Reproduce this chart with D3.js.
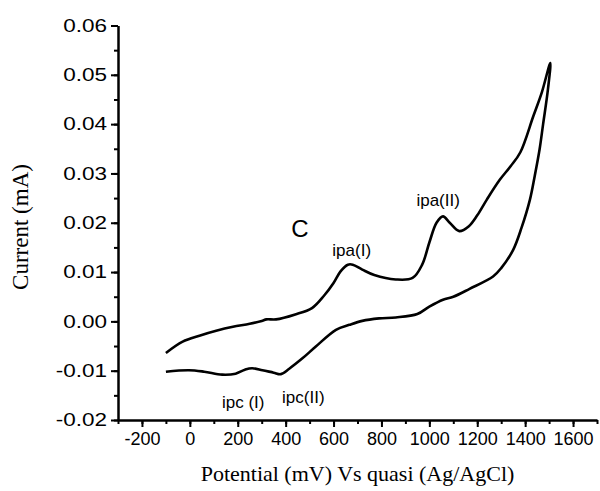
<!DOCTYPE html>
<html>
<head>
<meta charset="utf-8">
<script src="https://cdn.jsdelivr.net/npm/d3@7"></script>
<style>
    body { margin: 0; background: #fff; }
    svg { display: block; }
</style>
</head>
<body>
<div id="cv"></div>
<script>
// forward (anodic) sweep, -100 -> 1500 mV
let forwardPotential = [-100, -30, 40, 110, 180, 250, 300, 320, 360, 440, 510, 560, 600, 630, 660, 680, 720, 770, 860, 930, 970, 1000, 1030, 1057, 1085, 1125, 1165, 1200, 1240, 1294, 1340, 1380, 1434, 1470, 1505];
let forwardCurrent = [-0.0064, -0.0041, -0.0029, -0.0019, -0.0011, -0.0005, 0.0001, 0.0004, 0.0004, 0.0014, 0.0027, 0.0052, 0.0078, 0.0102, 0.0115, 0.0115, 0.0105, 0.0094, 0.0085, 0.0088, 0.0115, 0.0160, 0.0200, 0.0213, 0.0200, 0.0183, 0.0193, 0.0215, 0.0247, 0.0287, 0.0315, 0.0343, 0.0416, 0.0465, 0.0524];

// reverse (cathodic) sweep, 1500 -> -100 mV
let reversePotential = [1495, 1475, 1460, 1440, 1420, 1385, 1350, 1300, 1266, 1168, 1100, 1057, 1000, 950, 860, 790, 720, 666, 610, 526, 470, 415, 380, 350, 303, 260, 230, 191, 135, 60, -4, -100];
let reverseCurrent = [0.0470, 0.0400, 0.0348, 0.0295, 0.0247, 0.0190, 0.0145, 0.0108, 0.0091, 0.0066, 0.0050, 0.0044, 0.0030, 0.0015, 0.0008, 0.0006, 0.0001, -0.0007, -0.0017, -0.0051, -0.0075, -0.0096, -0.0107, -0.0104, -0.0099, -0.0095, -0.0098, -0.0106, -0.0108, -0.0102, -0.0099, -0.0102];

let xTicks = [-200, 0, 200, 400, 600, 800, 1000, 1200, 1400, 1600];
let yTicks = [-0.02, -0.01, 0.00, 0.01, 0.02, 0.03, 0.04, 0.05, 0.06];

let labelText = ["C", "ipa(I)", "ipa(II)", "ipc (I)", "ipc(II)"];
let labelPotential = [423, 595, 946, 134, 385];
let labelCurrent = [0.0172, 0.0133, 0.0233, -0.0175, -0.0165];

let width = 600, height = 491;

let svg = d3.select("#cv")
    .append("svg")
    .attr("width", width)
    .attr("height", height);

let x = d3.scaleLinear()
    .domain([-300, 1700])
    .range([118, 597]);

let y = d3.scaleLinear()
    .domain([-0.02, 0.06])
    .range([420, 25.5]);

// minor ticks first, then major ones on top
svg.append("g")
    .attr("transform", `translate(0, ${y(-0.02)})`)
    .call(d3.axisBottom(x).tickValues(d3.range(-300, 1701, 100)).tickSize(4).tickFormat("").tickSizeOuter(0))
    .call(g => g.select(".domain").remove())
    .selectAll("line").attr("stroke-width", 2);

svg.append("g")
    .attr("transform", `translate(${x(-300)}, 0)`)
    .call(d3.axisLeft(y).tickValues(d3.range(-0.02, 0.0601, 0.005)).tickSize(4).tickFormat("").tickSizeOuter(0))
    .call(g => g.select(".domain").remove())
    .selectAll("line").attr("stroke-width", 2);

let xAxis = svg.append("g")
    .attr("transform", `translate(0, ${y(-0.02)})`)
    .call(d3.axisBottom(x).tickValues(xTicks).tickSize(7).tickSizeOuter(0).tickPadding(5)
        .tickFormat(d => String(d)));

xAxis.select(".domain").attr("stroke-width", 2.5);
xAxis.selectAll("line").attr("stroke-width", 2);
xAxis.selectAll("text")
    .style("font-family", "'Liberation Sans', Arial, sans-serif")
    .style("font-size", "18px")
    .attr("fill", "#000");

let yAxis = svg.append("g")
    .attr("transform", `translate(${x(-300)}, 0)`)
    .call(d3.axisLeft(y).tickValues(yTicks).tickSize(7).tickSizeOuter(0)
        .tickFormat(d => (Math.abs(d) < 1e-9 ? 0 : d).toFixed(2)));

yAxis.select(".domain").attr("stroke-width", 2.5);
yAxis.selectAll("line").attr("stroke-width", 2);
yAxis.selectAll("text")
    .attr("x", -8.8)
    .attr("transform", "scale(1.25,1)")
    .style("font-family", "'Liberation Sans', Arial, sans-serif")
    .style("font-size", "18px")
    .attr("fill", "#000");

// join both sweeps into one loop
let cvData = forwardPotential.map((p, i) => ({ p: p, c: forwardCurrent[i] }))
    .concat(reversePotential.map((p, i) => ({ p: p, c: reverseCurrent[i] })));

let line = d3.line()
    .x(d => x(d.p))
    .y(d => y(d.c))
    .curve(d3.curveCatmullRom.alpha(0.5));

svg.append("path")
    .datum(cvData)
    .attr("d", line)
    .attr("fill", "none")
    .attr("stroke", "#000")
    .attr("stroke-width", 2.6)
    .attr("stroke-linejoin", "round");

svg.selectAll(".peak")
    .data(labelText)
    .enter()
    .append("text")
    .attr("class", "peak")
    .attr("x", (d, i) => x(labelPotential[i]))
    .attr("y", (d, i) => y(labelCurrent[i]))
    .style("font-family", "'Liberation Sans', Arial, sans-serif")
    .style("font-size", d => d == "C" ? "24px" : "17px")
    .text(d => d);

svg.append("text")
    .attr("transform", `translate(${(x(-300) + x(1700)) / 2}, 481)`)
    .style("text-anchor", "middle")
    .style("font-family", "'Liberation Serif', 'Times New Roman', serif")
    .style("font-size", "22px")
    .text("Potential (mV) Vs quasi (Ag/AgCl)");

svg.append("text")
    .attr("transform", `translate(28, 227)rotate(-90)`)
    .style("text-anchor", "middle")
    .style("font-family", "'Liberation Serif', 'Times New Roman', serif")
    .style("font-size", "23px")
    .text("Current (mA)");
</script>
</body>
</html>
